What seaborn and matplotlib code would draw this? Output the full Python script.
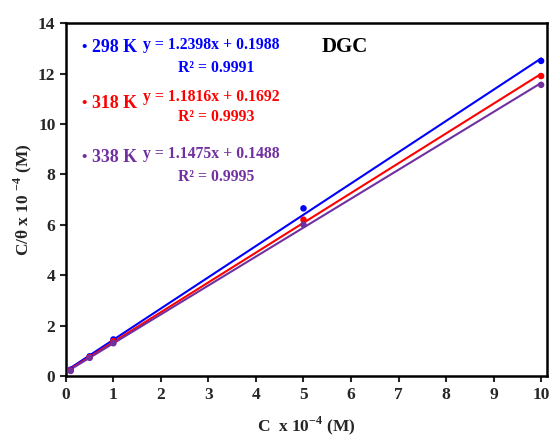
import numpy as np
import pandas as pd
import matplotlib
matplotlib.use('Agg')
import matplotlib.pyplot as plt
import seaborn as sb

# data
conc = [0.1, 0.5, 1, 5, 10]
y_298 = [0.25, 0.78, 1.45, 6.65, 12.5]
y_318 = [0.22, 0.75, 1.38, 6.2, 11.9]
y_338 = [0.2, 0.72, 1.3, 6.0, 11.55]
temps = ['298 K', '318 K', '338 K']
slopes = [1.2398, 1.1816, 1.1475]
intercepts = [0.1988, 0.1692, 0.1488]
r2 = ['0.9991', '0.9993', '0.9995']
colors = ['#0000ff', '#ff0000', '#7030a0']

sb.set_style('ticks')
plt.rcParams['font.family'] = ['Liberation Serif', 'DejaVu Serif']
plt.rcParams['font.weight'] = 'bold'
plt.rcParams['mathtext.fontset'] = 'custom'
plt.rcParams['mathtext.rm'] = 'Liberation Serif:bold'
plt.rcParams['mathtext.bf'] = 'Liberation Serif:bold'

df = pd.DataFrame({'C': conc * 3,
                   'ratio': y_298 + y_318 + y_338,
                   'T': [t for t in temps for _ in conc]})
# trend lines from the fitted equations
fit = pd.DataFrame({'C': conc * 3,
                    'ratio': [slopes[i] * c + intercepts[i] for i in range(3) for c in conc],
                    'T': [t for t in temps for _ in conc]})

fig = plt.figure(figsize=(5.49, 4.4), dpi=100)
ax = fig.add_axes([0.120, 0.1455, 0.876, 0.802])

sb.lineplot(data=fit, x='C', y='ratio', hue='T', palette=colors, lw=1.5, ax=ax, legend=False)
sb.scatterplot(data=df, x='C', y='ratio', hue='T', palette=colors, s=22, edgecolor='none',
               ax=ax, legend=False, zorder=3)

ax.set_xlim(0, 10.12)
ax.set_ylim(0, 14)
ax.set_xticks(range(0, 11))
ax.set_yticks(range(0, 15, 2))
ax.tick_params(direction='out', length=4, width=1.5, labelsize=12.5)
ax.tick_params(axis='x', pad=4)
for lab in ax.get_xticklabels() + ax.get_yticklabels():
    lab.set_fontweight('bold')
for sp in ax.spines.values():
    sp.set_linewidth(1.8)
    sp.set_color('black')

ax.set_xlabel('C  x 10$^{-4}$ (M)', fontsize=12.5, fontweight='bold', labelpad=8)
ax.set_ylabel('C/θ x 10 $^{-4}$ (M)', fontsize=12.5, fontweight='bold', labelpad=3)

label_y = [0.932, 0.773, 0.618]
eq_y = [0.937, 0.79, 0.628]
r2_y = [0.873, 0.733, 0.563]
for i in range(3):
    ax.text(0.037, label_y[i], '•', transform=ax.transAxes, color=colors[i],
            fontsize=11, fontweight='bold', va='center', ha='center')
    ax.text(0.054, label_y[i], temps[i], transform=ax.transAxes, color=colors[i],
            fontsize=12.8, fontweight='bold', va='center', ha='left')
    ax.text(0.303, eq_y[i], f'y = {slopes[i]}x + {intercepts[i]}', transform=ax.transAxes,
            color=colors[i], fontsize=11.3, fontweight='bold', va='center', ha='center')
    ax.text(0.312, r2_y[i], f'R² = {r2[i]}', transform=ax.transAxes, color=colors[i],
            fontsize=11.3, fontweight='bold', va='center', ha='center')

ax.text(0.58, 0.932, 'DGC', transform=ax.transAxes, color='black', fontsize=15,
        fontweight='bold', va='center', ha='center')

fig.savefig('out.png', dpi=100)
